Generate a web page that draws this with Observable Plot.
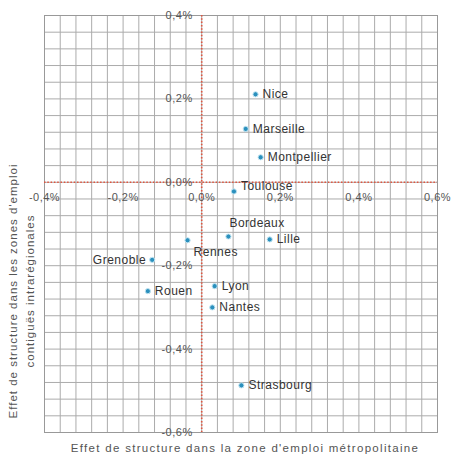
<!DOCTYPE html>
<html>
<head>
<meta charset="utf-8">
<script src="https://cdn.jsdelivr.net/npm/d3@7"></script>
<script src="https://cdn.jsdelivr.net/npm/@observablehq/plot@0.6"></script>
<style>
  html, body { margin: 0; padding: 0; background: #fff; }
  #chart { width: 455px; height: 465px; }
  svg { font-family: "Liberation Sans", Arial, sans-serif; }
  svg text { letter-spacing: 0.5px; }
</style>
</head>
<body>
<div id="chart"></div>
<script>
const cities = ["Nice", "Marseille", "Montpellier", "Toulouse", "Bordeaux", "Lille", "Rennes", "Grenoble", "Rouen", "Lyon", "Nantes", "Strasbourg"];
const metroEffect = [0.137, 0.112, 0.150, 0.082, 0.068, 0.173, -0.036, -0.126, -0.137, 0.033, 0.027, 0.101];
const contigEffect = [0.211, 0.128, 0.060, -0.022, -0.130, -0.137, -0.139, -0.186, -0.261, -0.249, -0.300, -0.487];
const xTicks = [-0.4, -0.2, 0, 0.2, 0.4, 0.6];
const yTicks = [0.4, 0.2, 0, -0.2, -0.4, -0.6];
const xTitle = "Effet de structure dans la zone d'emploi métropolitaine";
const yTitleLines = ["Effet de structure dans les zones d'emploi", "contiguës intrarégionales"];

// label placement per city
const labelPos = {
  Bordeaux: {dx: 1, dy: -13, anchor: "start"},
  Rennes: {dx: 6, dy: 12, anchor: "start"},
  Grenoble: {dx: -6, dy: 0, anchor: "end"},
  Toulouse: {dx: 7, dy: -5, anchor: "start"}
};

const data = cities.map((c, i) => ({
  city: c, x: metroEffect[i], y: contigEffect[i],
  ...(labelPos[c] || {dx: 7, dy: 0, anchor: "start"})
}));

const fmt = v => (v < 0 ? "-" : "") + Math.abs(v).toFixed(1).replace(".", ",") + "%";
const gridX = d3.range(-0.4, 0.6001, 0.04);
const gridY = d3.range(-0.6, 0.4001, 0.04);

const chart = Plot.plot({
  width: 455,
  height: 465,
  marginLeft: 44,
  marginRight: 18,
  marginTop: 15,
  marginBottom: 33,
  x: {domain: [-0.4, 0.6], axis: null},
  y: {domain: [-0.6, 0.4], axis: null},
  marks: [
    Plot.ruleX(gridX, {stroke: "#ababab", strokeWidth: 1}),
    Plot.ruleY(gridY, {stroke: "#ababab", strokeWidth: 1}),
    Plot.frame({stroke: "#999"}),
    Plot.ruleX([0], {stroke: "#e0553f", strokeWidth: 1.6, strokeDasharray: "1.5,1.8"}),
    Plot.ruleY([0], {stroke: "#e0553f", strokeWidth: 1.6, strokeDasharray: "1.5,1.8"}),
    Plot.text(xTicks, {x: d => d, y: 0, dy: 15, text: fmt, fontSize: 11, fill: "#555"}),
    Plot.text(yTicks, {x: 0, y: d => d, dx: -9, textAnchor: "end", text: fmt, fontSize: 11, fill: "#555"}),
    Plot.dot(data, {x: "x", y: "y", r: 2.6, fill: "#2b90bd", stroke: "#c4e6f3", strokeWidth: 1}),
    ...data.map(d => Plot.text([d], {
      x: "x", y: "y", text: "city", textAnchor: d.anchor,
      dx: d.dx, dy: d.dy, fontSize: 12, fill: "#333"
    })),
    Plot.text([xTitle], {frameAnchor: "bottom", dy: 19, dx: 4, fontSize: 11.5, fill: "#555", text: d => d}),
    Plot.text([yTitleLines[0]], {frameAnchor: "left", textAnchor: "middle", dx: -31, dy: 67, rotate: -90, fontSize: 11.5, fill: "#555", text: d => d}),
    Plot.text([yTitleLines[1]], {frameAnchor: "left", textAnchor: "middle", dx: -14, dy: 67, rotate: -90, fontSize: 11.5, fill: "#555", text: d => d})
  ]
});
d3.select(chart).selectAll("text")
  .filter(function() { return this.textContent === xTitle; })
  .style("letter-spacing", "1.3px");
d3.select(chart).selectAll("text")
  .filter(function() { return yTitleLines.includes(this.textContent); })
  .style("letter-spacing", "1px");
document.getElementById("chart").appendChild(chart);
</script>
</body>
</html>
